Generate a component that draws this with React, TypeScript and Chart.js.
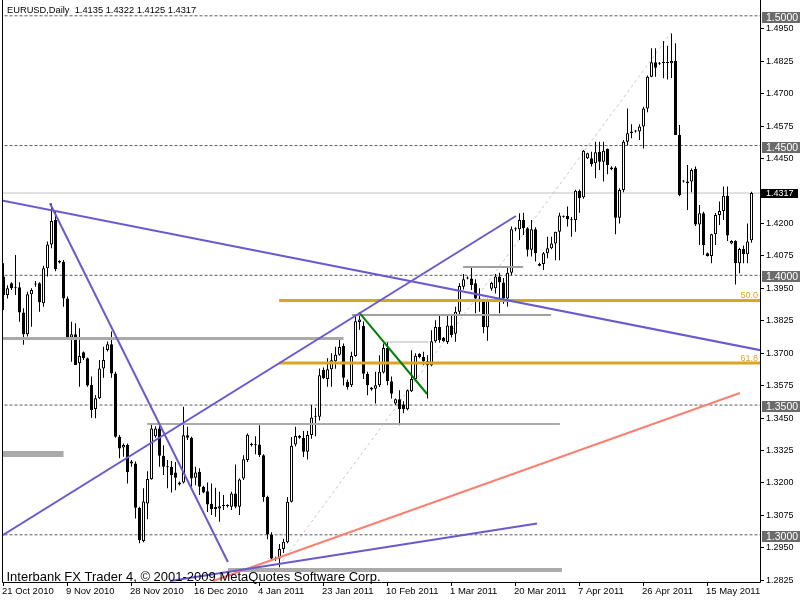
import React, { useEffect, useRef } from 'react';
import { Chart, registerables } from 'chart.js';

Chart.register(...registerables);

// ---------- data (EURUSD daily, 21 Oct 2010 .. 27 May 2011) ----------
const OPEN = [
  1.3995,1.3924,1.3969,1.3950,1.3954,1.3857,1.3773,1.3927,1.3965,1.3969,
  1.3892,1.4027,1.4119,1.4213,1.4055,1.4052,1.3911,1.3760,1.3773,1.3661,
  1.3703,1.3680,1.3577,1.3485,1.3526,1.3641,1.3712,1.3734,1.3622,1.3378,
  1.3336,1.3346,1.3282,1.3275,1.3104,1.2976,1.3121,1.3214,1.3380,1.3410,
  1.3305,1.3262,1.3262,1.3240,1.3194,1.3202,1.3384,1.3374,1.3220,1.3243,
  1.3185,1.3168,1.3120,1.3099,1.3101,1.3111,1.3111,1.3108,1.3159,1.3108,
  1.3217,1.3288,1.3350,1.3345,1.3348,1.3307,1.3146,1.3001,1.2909,1.2909,
  1.2945,1.2971,1.3127,1.3348,1.3381,1.3374,1.3320,1.3385,1.3458,1.3455,
  1.3635,1.3600,1.3638,1.3669,1.3694,1.3728,1.3590,1.3576,1.3689,1.3820,
  1.3805,1.3621,1.3567,1.3563,1.3576,1.3625,1.3720,1.3592,1.3506,1.3522,
  1.3502,1.3484,1.3553,1.3600,1.3698,1.3685,1.3669,1.3653,1.3746,1.3801,
  1.3759,1.3743,1.3807,1.3775,1.3860,1.3956,1.3990,1.3988,1.3969,1.3911,
  1.3898,1.3800,1.3948,1.3950,1.3995,1.3972,1.3911,1.4010,1.4177,1.4177,
  1.4213,1.4181,1.4098,1.4177,1.4044,1.4044,1.4085,1.4104,1.4123,1.4168,
  1.4226,1.4229,1.4216,1.4213,1.4326,1.4301,1.4451,1.4451,1.4432,1.4476,
  1.4438,1.4487,1.4415,1.4415,1.4222,1.4329,1.4515,1.4547,1.4554,1.4554,
  1.4573,1.4643,1.4765,1.4821,1.4815,1.4818,1.4819,1.4817,1.4826,1.4541,
  1.4363,1.4361,1.4361,1.4410,1.4196,1.4239,1.4085,1.4074,1.4158,1.4232,
  1.4248,1.4307,1.4123,1.4132,1.4046,1.4101,1.4081,1.4135,
];
const HIGH = [
  1.4046,1.3962,1.3973,1.4078,1.3973,1.3873,1.3937,1.3950,1.3978,1.3973,
  1.4037,1.4130,1.4277,1.4245,1.4058,1.4059,1.3918,1.3821,1.3815,1.3796,
  1.3706,1.3683,1.3610,1.3539,1.3674,1.3725,1.3745,1.3783,1.3628,1.3385,
  1.3352,1.3352,1.3288,1.3282,1.3108,1.3179,1.3245,1.3429,1.3418,1.3425,
  1.3345,1.3288,1.3284,1.3281,1.3205,1.3493,1.3416,1.3378,1.3262,1.3256,
  1.3189,1.3202,1.3198,1.3181,1.3166,1.3153,1.3118,1.3166,1.3271,1.3217,
  1.3307,1.3390,1.3355,1.3380,1.3422,1.3310,1.3150,1.3010,1.2915,1.2965,
  1.2985,1.3146,1.3377,1.3416,1.3385,1.3400,1.3400,1.3500,1.3490,1.3641,
  1.3645,1.3680,1.3700,1.3725,1.3757,1.3737,1.3598,1.3705,1.3847,1.3857,
  1.3822,1.3628,1.3570,1.3628,1.3692,1.3737,1.3743,1.3610,1.3525,1.3557,
  1.3515,1.3560,1.3711,1.3700,1.3700,1.3705,1.3692,1.3788,1.3827,1.3846,
  1.3762,1.3849,1.3849,1.3879,1.3969,1.4005,1.3995,1.4031,1.3985,1.3950,
  1.3910,1.3910,1.3975,1.4005,1.4010,1.3990,1.4033,1.4188,1.4185,1.4239,
  1.4241,1.4185,1.4213,1.4185,1.4048,1.4090,1.4149,1.4149,1.4168,1.4241,
  1.4230,1.4265,1.4225,1.4330,1.4331,1.4483,1.4472,1.4476,1.4515,1.4515,
  1.4515,1.4489,1.4420,1.4420,1.4335,1.4521,1.4643,1.4582,1.4560,1.4582,
  1.4650,1.4770,1.4875,1.4875,1.4822,1.4903,1.4885,1.4932,1.4894,1.4579,
  1.4366,1.4425,1.4412,1.4419,1.4271,1.4245,1.4088,1.4160,1.4240,1.4284,
  1.4342,1.4342,1.4135,1.4135,1.4105,1.4115,1.4200,1.4322,
];
const LOW = [
  1.3866,1.3911,1.3943,1.3924,1.3821,1.3732,1.3764,1.3802,1.3956,1.3860,
  1.3879,1.3995,1.4104,1.4016,1.4045,1.3879,1.3757,1.3667,1.3654,1.3571,
  1.3674,1.3571,1.3451,1.3449,1.3523,1.3605,1.3706,1.3605,1.3374,1.3295,
  1.3301,1.3198,1.3262,1.3063,1.2967,1.2971,1.3060,1.3212,1.3374,1.3262,
  1.3230,1.3179,1.3163,1.3172,1.3190,1.3198,1.3365,1.3185,1.3191,1.3153,
  1.3160,1.3088,1.3076,1.3070,1.3050,1.3096,1.3105,1.3096,1.3102,1.3076,
  1.3211,1.3281,1.3340,1.3310,1.3300,1.3127,1.2983,1.2902,1.2900,1.2875,
  1.2930,1.2967,1.3124,1.3340,1.3370,1.3300,1.3290,1.3370,1.3380,1.3440,
  1.3600,1.3571,1.3571,1.3640,1.3690,1.3575,1.3560,1.3570,1.3686,1.3790,
  1.3600,1.3538,1.3555,1.3506,1.3570,1.3622,1.3576,1.3525,1.3500,1.3422,
  1.3468,1.3480,1.3550,1.3595,1.3680,1.3653,1.3525,1.3650,1.3740,1.3740,
  1.3744,1.3735,1.3760,1.3744,1.3850,1.3945,1.3985,1.3943,1.3854,1.3860,
  1.3777,1.3748,1.3940,1.3930,1.3854,1.3890,1.3880,1.4000,1.4170,1.4136,
  1.4155,1.4072,1.4072,1.4053,1.4035,1.4020,1.4066,1.4100,1.4058,1.4058,
  1.4222,1.4188,1.4149,1.4168,1.4241,1.4295,1.4448,1.4419,1.4374,1.4406,
  1.4361,1.4389,1.4405,1.4158,1.4200,1.4320,1.4500,1.4528,1.4550,1.4521,
  1.4489,1.4628,1.4763,1.4765,1.4810,1.4759,1.4755,1.4760,1.4541,1.4305,
  1.4358,1.4252,1.4320,1.4190,1.4117,1.4078,1.4072,1.4046,1.4117,1.4194,
  1.4213,1.4132,1.4120,1.3965,1.4008,1.4046,1.4046,1.4125,
];
const CLOSE = [
  1.3924,1.3950,1.3950,1.3952,1.3857,1.3773,1.3927,1.3943,1.3968,1.3896,
  1.4027,1.4119,1.4209,1.4024,1.4049,1.3911,1.3760,1.3773,1.3654,1.3689,
  1.3680,1.3575,1.3481,1.3526,1.3641,1.3674,1.3734,1.3622,1.3378,1.3333,
  1.3346,1.3241,1.3275,1.3104,1.2980,1.3128,1.3215,1.3410,1.3410,1.3305,
  1.3262,1.3260,1.3230,1.3220,1.3202,1.3384,1.3374,1.3217,1.3240,1.3185,
  1.3163,1.3117,1.3099,1.3107,1.3110,1.3111,1.3115,1.3159,1.3108,1.3213,
  1.3291,1.3386,1.3345,1.3348,1.3307,1.3146,1.3001,1.2909,1.2906,1.2945,
  1.2973,1.3127,1.3343,1.3381,1.3374,1.3320,1.3385,1.3452,1.3455,1.3615,
  1.3603,1.3638,1.3673,1.3694,1.3724,1.3605,1.3570,1.3689,1.3823,1.3830,
  1.3621,1.3576,1.3560,1.3576,1.3628,1.3720,1.3592,1.3544,1.3522,1.3484,
  1.3484,1.3557,1.3600,1.3690,1.3685,1.3669,1.3653,1.3746,1.3801,1.3750,
  1.3746,1.3807,1.3769,1.3860,1.3959,1.3985,1.3988,1.3963,1.3911,1.3898,
  1.3800,1.3905,1.3970,1.3995,1.3972,1.3911,1.4010,1.4177,1.4181,1.4213,
  1.4181,1.4098,1.4177,1.4085,1.4037,1.4085,1.4104,1.4123,1.4168,1.4230,
  1.4226,1.4216,1.4212,1.4326,1.4297,1.4480,1.4470,1.4428,1.4474,1.4438,
  1.4480,1.4425,1.4410,1.4222,1.4329,1.4515,1.4547,1.4554,1.4556,1.4573,
  1.4643,1.4765,1.4821,1.4800,1.4817,1.4820,1.4818,1.4826,1.4541,1.4309,
  1.4361,1.4355,1.4406,1.4196,1.4239,1.4117,1.4074,1.4158,1.4232,1.4248,
  1.4307,1.4153,1.4132,1.4046,1.4101,1.4081,1.4130,1.4317,
];

const DATE_TICK_BARS = [0, 16, 32, 48, 64, 80, 96, 112, 128, 144, 160, 176];
const DATE_LABELS = [
  '21 Oct 2010', '9 Nov 2010', '28 Nov 2010', '16 Dec 2010', '4 Jan 2011', '23 Jan 2011',
  '10 Feb 2011', '1 Mar 2011', '20 Mar 2011', '7 Apr 2011', '26 Apr 2011', '15 May 2011',
];
const PRICE_TICKS = [
  1.4950, 1.4825, 1.4700, 1.4575, 1.4450, 1.4200, 1.4075, 1.3950, 1.3825,
  1.3700, 1.3575, 1.3450, 1.3325, 1.3200, 1.3075, 1.2950, 1.2825,
];
const LEVEL_PRICES = [1.5000, 1.4500, 1.4000, 1.3500, 1.3000];
const LAST_PRICE = 1.4317;
const TITLE = 'EURUSD,Daily  1.4135 1.4322 1.4125 1.4317';
const FOOTER = 'Interbank FX Trader 4, \u00A9 2001-2009 MetaQuotes Software Corp.';

// trend lines: [bar, price] endpoints
const PURPLE_A = [[-1, 1.4290], [190, 1.3709]];
const PURPLE_B = [[11.6, 1.42775], [56.1, 1.28952]];
const PURPLE_C = [[-1, 1.29908], [128.1, 1.42285]];
const PURPLE_D = [[41.6, 1.2822], [133.4, 1.30435]];
const SALMON_LINE = [[52.4, 1.2822], [184.1, 1.35464]];
const GREEN_LINE = [[88.9, 1.38574], [105.9, 1.35426]];
const FIB_BASE = [[68.9, 1.2880], [166.9, 1.4934]];
const FIB_PRICES = [1.3903, 1.3662];
const FIB_NAMES = ['50.0', '61.8'];
const FIB_FROM = 68.9;

// grey horizontal segments
const GREY_PRICES = [1.37565, 1.3311, 1.3427, 1.2864, 1.3847, 1.4032, 1.3743];
const GREY_FROM = [-1, -1, 35.9, 56.1, 87.1, 114.9, 95.4];
const GREY_TO = [85, 15, 139.1, 139.6, 136.9, 129.9, 106.1];

const X_MIN = -0.375;
const X_MAX = 189.125;
const Y_MIN = 1.281811;
const Y_MAX = 1.506089;

const FONT = '"Liberation Sans", Arial, sans-serif';

function seg(points: number[][]) {
  return points.map(([x, y]) => ({ x, y }));
}

export default function App() {
  const ref = useRef<HTMLCanvasElement>(null);

  useEffect(() => {
    const canvas = ref.current;
    if (!canvas) return;

    const wickData = OPEN.map((_, i) => ({ x: i, y: [LOW[i], HIGH[i]] }));
    const bodyData = OPEN.map((o, i) => ({ x: i, y: [o, CLOSE[i]] }));
    const bodyColors = OPEN.map((o, i) => (CLOSE[i] >= o ? '#ffffff' : '#000000'));

    const lineDs = (data: any[], color: string, width: number, order: number, dash: number[] = []) => ({
      type: 'line' as const,
      data,
      borderColor: color,
      borderWidth: width,
      borderDash: dash,
      pointRadius: 0,
      fill: false,
      tension: 0,
      clip: 0,
      order,
      borderCapStyle: 'butt' as const,
    });

    const greyWidths = [3, 6, 2, 4, 2, 2, 1];
    const greyColors = ['#aaaaaa', '#aaaaaa', '#aaaaaa', '#aaaaaa', '#a0a0a0', '#a0a0a0', '#b4b4b4'];

    const datasets: any[] = [];
    LEVEL_PRICES.forEach((p) => {
      datasets.push(lineDs([{ x: -1, y: p }, { x: 190, y: p }], '#5c5c5c', 1, 200, [3, 2]));
    });
    datasets.push(lineDs([{ x: -1, y: LAST_PRICE }, { x: 190, y: LAST_PRICE }], '#c0c0c0', 1, 201));
    datasets.push(lineDs(seg(FIB_BASE), '#c8c8c8', 1, 202, [3, 3]));

    datasets.push({
      type: 'bar',
      data: wickData,
      backgroundColor: '#000000',
      borderWidth: 0,
      barThickness: 1,
      grouped: false,
      inflateAmount: 0,
      order: 150,
    });
    datasets.push({
      type: 'bar',
      data: bodyData,
      backgroundColor: bodyColors,
      borderColor: '#000000',
      borderWidth: 1,
      borderSkipped: false,
      barThickness: 3,
      minBarLength: 1,
      grouped: false,
      inflateAmount: 0,
      order: 140,
    });

    GREY_PRICES.forEach((p, k) => {
      datasets.push(lineDs([{ x: GREY_FROM[k], y: p }, { x: GREY_TO[k], y: p }], greyColors[k], greyWidths[k], 60 + k));
    });
    FIB_PRICES.forEach((p, k) => {
      datasets.push(lineDs([{ x: FIB_FROM, y: p }, { x: 190, y: p }], '#daa520', 3, 40 + k));
    });
    datasets.push(lineDs(seg(SALMON_LINE), '#fa8072', 2, 20));
    datasets.push(lineDs(seg(GREEN_LINE), '#008000', 2, 19));
    datasets.push(lineDs(seg(PURPLE_A), '#6a5acd', 2, 10));
    datasets.push(lineDs(seg(PURPLE_B), '#6a5acd', 2, 11));
    datasets.push(lineDs(seg(PURPLE_C), '#6a5acd', 2, 12));
    datasets.push(lineDs(seg(PURPLE_D), '#6a5acd', 2, 13));

    const overlay = {
      id: 'mt4overlay',
      afterDraw(chart: any) {
        const ctx = chart.ctx as CanvasRenderingContext2D;
        const ys = chart.scales.y;
        const area = chart.chartArea;
        ctx.save();
        ctx.strokeStyle = '#000';
        ctx.lineWidth = 1;
        ctx.beginPath();
        ctx.moveTo(area.left + 0.5, 0);
        ctx.lineTo(area.left + 0.5, area.bottom + 0.5);
        ctx.lineTo(area.right + 0.5, area.bottom + 0.5);
        ctx.lineTo(area.right + 0.5, 0);
        ctx.stroke();

        ctx.fillStyle = '#daa520';
        ctx.font = `9px ${FONT}`;
        ctx.textAlign = 'right';
        ctx.textBaseline = 'alphabetic';
        FIB_PRICES.forEach((p, k) => {
          const py = ys.getPixelForValue(p);
          ctx.fillText(FIB_NAMES[k], area.right - 2, py - 2.5);
        });

        ctx.textAlign = 'left';
        ctx.textBaseline = 'middle';
        LEVEL_PRICES.forEach((p) => {
          const py = ys.getPixelForValue(p);
          ctx.fillStyle = '#6b6b6b';
          ctx.fillRect(area.right + 2, Math.round(py) - 4, 38, 11);
          ctx.fillStyle = '#ffffff';
          ctx.font = `10.5px ${FONT}`;
          ctx.fillText(p.toFixed(4), area.right + 6, Math.round(py) + 1.8);
        });
        const lp = ys.getPixelForValue(LAST_PRICE);
        ctx.fillStyle = '#000000';
        ctx.fillRect(area.right + 1, Math.round(lp) - 4, 37, 9);
        ctx.fillStyle = '#ffffff';
        ctx.font = `9px ${FONT}`;
        ctx.fillText(LAST_PRICE.toFixed(4), area.right + 6, Math.round(lp) + 0.8);

        ctx.fillStyle = '#000000';
        ctx.textBaseline = 'alphabetic';
        ctx.font = `9.3px ${FONT}`;
        ctx.fillText(TITLE, 7, 13.3);
        ctx.font = `13px ${FONT}`;
        ctx.fillText(FOOTER, 6.5, 581.3);
        ctx.restore();
      },
    };

    const chart = new Chart(canvas, {
      type: 'bar',
      data: { datasets },
      options: {
        responsive: false,
        animation: false,
        devicePixelRatio: 1,
        events: [],
        layout: { padding: { left: 2, right: 0, top: 0, bottom: 0 } },
        plugins: { legend: { display: false }, tooltip: { enabled: false } },
        scales: {
          x: {
            type: 'linear',
            min: X_MIN,
            max: X_MAX,
            offset: false,
            border: { display: false },
            grid: { display: true, drawOnChartArea: false, drawTicks: true, tickLength: 4, color: '#000', offset: false },
            afterBuildTicks: (scale: any) => {
              scale.ticks = DATE_TICK_BARS.map((v) => ({ value: v }));
            },
            afterFit: (scale: any) => {
              scale.height = 18;
              scale.paddingLeft = 0;
              scale.paddingRight = 0;
            },
            ticks: {
              autoSkip: false,
              maxRotation: 0,
              minRotation: 0,
              align: 'start',
              labelOffset: -1.5,
              padding: 0,
              color: '#000',
              font: { family: FONT, size: 9.5 },
              callback: (v: any) => {
                const k = DATE_TICK_BARS.indexOf(Number(v));
                return k >= 0 ? DATE_LABELS[k] : '';
              },
            },
          },
          y: {
            type: 'linear',
            position: 'right',
            min: Y_MIN,
            max: Y_MAX,
            border: { display: false },
            grid: { display: true, drawOnChartArea: false, drawTicks: true, tickLength: 4, color: '#000' },
            afterBuildTicks: (scale: any) => {
              scale.ticks = PRICE_TICKS.map((v) => ({ value: v }));
            },
            afterFit: (scale: any) => {
              scale.width = 40;
              scale.paddingTop = 0;
              scale.paddingBottom = 0;
            },
            ticks: {
              autoSkip: false,
              padding: 2,
              color: '#000',
              font: { family: FONT, size: 9 },
              callback: (v: any) => Number(v).toFixed(4),
            },
          },
        },
      },
      plugins: [overlay],
    } as any);

    return () => chart.destroy();
  }, []);

  return (
    <div style={{ position: 'absolute', left: 0, top: 0, width: 800, height: 600, background: '#ffffff' }}>
      <canvas ref={ref} width={800} height={600} style={{ display: 'block' }} />
    </div>
  );
}
